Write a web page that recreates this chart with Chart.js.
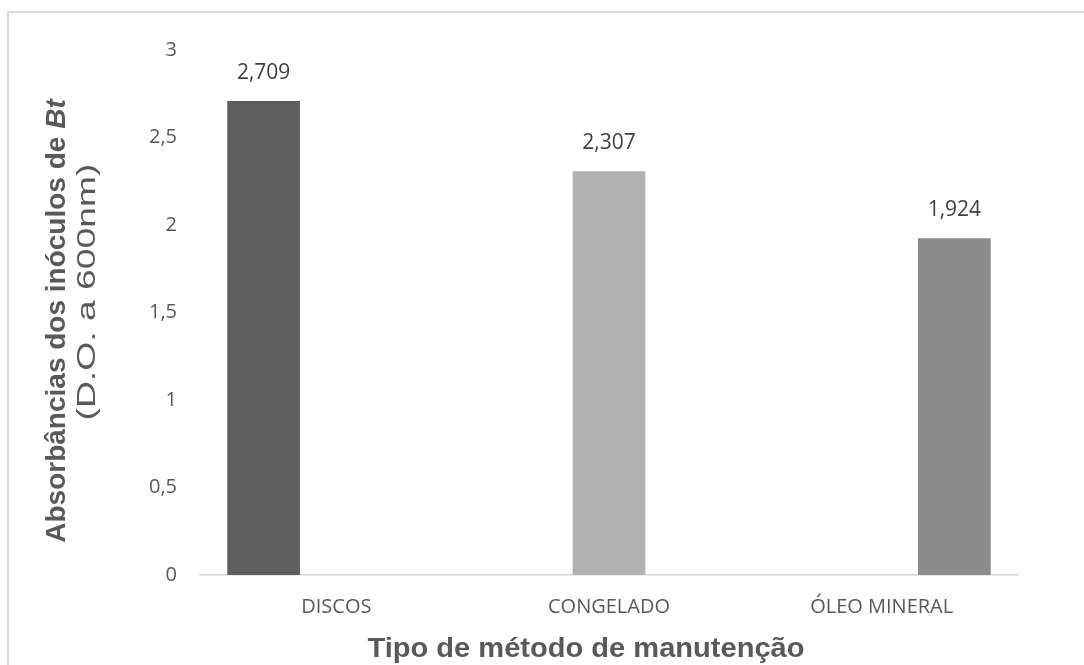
<!DOCTYPE html>
<html>
<head>
<meta charset="utf-8">
<script src="https://cdn.jsdelivr.net/npm/chart.js@4/dist/chart.umd.min.js"></script>
<style>
  html, body { margin: 0; padding: 0; background: #fff; overflow: hidden; }
  #wrap { position: relative; width: 1084px; height: 665px; }
  #frame { position: absolute; left: 7px; top: 11px; width: 1200px; height: 800px; border: 2px solid #d9d9d9; }
  #chart { position: absolute; left: 0; top: 0; }
</style>
</head>
<body>
<div id="wrap">
  <div id="frame"></div>
  <canvas id="chart" width="1084" height="665"></canvas>
</div>
<script>
const categories = ['DISCOS', 'CONGELADO', 'ÓLEO MINERAL'];
const absorbancias = [2.709, 2.307, 1.924];
const barColors = ['#5f5f5f', '#b2b2b2', '#8a8a8a'];
const yMin = 0, yMax = 3, yStep = 0.5;

const xTitle = 'Tipo de método de manutenção';
const yTitleMain = 'Absorbâncias dos inóculos de ';
const yTitleItalic = 'Bt';
const yTitleSub = '(D.O. a 600nm)';

const comma = v => String(v).replace('.', ',');

// one dataset per method, so each bar keeps its own slot in the group
const datasets = categories.map((c, i) => ({
    label: c,
    data: categories.map((_, j) => j === i ? absorbancias[i] : null),
    backgroundColor: barColors[i],
    categoryPercentage: 0.8,
    barPercentage: 1.0
}));

// text squeezed/stretched to a given width
function fitText(ctx, text, x, y, width) {
    const w = ctx.measureText(text).width;
    ctx.save();
    ctx.translate(x, y);
    ctx.scale(width / w, 1);
    ctx.fillText(text, 0, 0);
    ctx.restore();
}

const valueLabels = {
    id: 'valueLabels',
    afterDatasetsDraw(chart) {
        const ctx = chart.ctx;
        ctx.save();
        ctx.font = '21px "Open Sans", sans-serif';
        ctx.fillStyle = '#404040';
        ctx.textAlign = 'center';
        ctx.textBaseline = 'middle';
        chart.data.datasets.forEach((ds, i) => {
            chart.getDatasetMeta(i).data.forEach((bar, j) => {
                const v = ds.data[j];
                if (v === null) return;
                ctx.fillText(v.toFixed(3).replace('.', ','), bar.x, bar.y - 28);
            });
        });
        ctx.restore();
    }
};

const axisTitles = {
    id: 'axisTitles',
    afterDraw(chart) {
        const ctx = chart.ctx;
        ctx.save();
        ctx.fillStyle = '#595959';
        ctx.textBaseline = 'alphabetic';
        ctx.textAlign = 'left';

        // x title
        ctx.font = 'bold 28px "Liberation Sans", Arial, sans-serif';
        fitText(ctx, xTitle, 586 - 437 / 2, 657, 437);

        // y title, two lines rotated
        ctx.save();
        ctx.translate(65, 321);
        ctx.rotate(-Math.PI / 2);
        ctx.font = 'bold 28px "Liberation Sans", Arial, sans-serif';
        const w1 = ctx.measureText(yTitleMain).width;
        ctx.font = 'italic bold 28px "Liberation Sans", Arial, sans-serif';
        const w2 = ctx.measureText(yTitleItalic).width;
        const start = -(w1 + w2) / 2;
        ctx.font = 'bold 28px "Liberation Sans", Arial, sans-serif';
        ctx.fillText(yTitleMain, start, 0);
        ctx.font = 'italic bold 28px "Liberation Sans", Arial, sans-serif';
        ctx.fillText(yTitleItalic, start + w1, 0);
        ctx.restore();

        ctx.save();
        ctx.translate(95, 292);
        ctx.rotate(-Math.PI / 2);
        ctx.font = '26px "Liberation Sans", Arial, sans-serif';
        fitText(ctx, yTitleSub, -257 / 2, 0, 257);
        ctx.restore();

        ctx.restore();
    }
};

new Chart(document.getElementById('chart'), {
    type: 'bar',
    data: { labels: categories, datasets: datasets },
    options: {
        responsive: false,
        devicePixelRatio: 1,
        animation: false,
        layout: { padding: { left: 0, right: 66, top: 50, bottom: 0 } },
        plugins: {
            legend: { display: false },
            tooltip: { enabled: false }
        },
        scales: {
            x: {
                grid: { display: false, drawTicks: false },
                border: { display: true, color: '#d6d6d6', width: 1.5 },
                ticks: {
                    color: '#595959',
                    font: { family: '"Open Sans", sans-serif', size: 20 },
                    padding: 20,
                    maxRotation: 0
                },
                afterFit(s) { s.height = 90; }
            },
            y: {
                min: yMin,
                max: yMax,
                grid: { display: false, drawTicks: false },
                border: { display: false },
                ticks: {
                    stepSize: yStep,
                    color: '#595959',
                    font: { family: '"Open Sans", sans-serif', size: 20 },
                    padding: 23,
                    callback: v => comma(v)
                },
                afterFit(s) { s.width = 200; }
            }
        }
    },
    plugins: [valueLabels, axisTitles]
});
</script>
</body>
</html>
